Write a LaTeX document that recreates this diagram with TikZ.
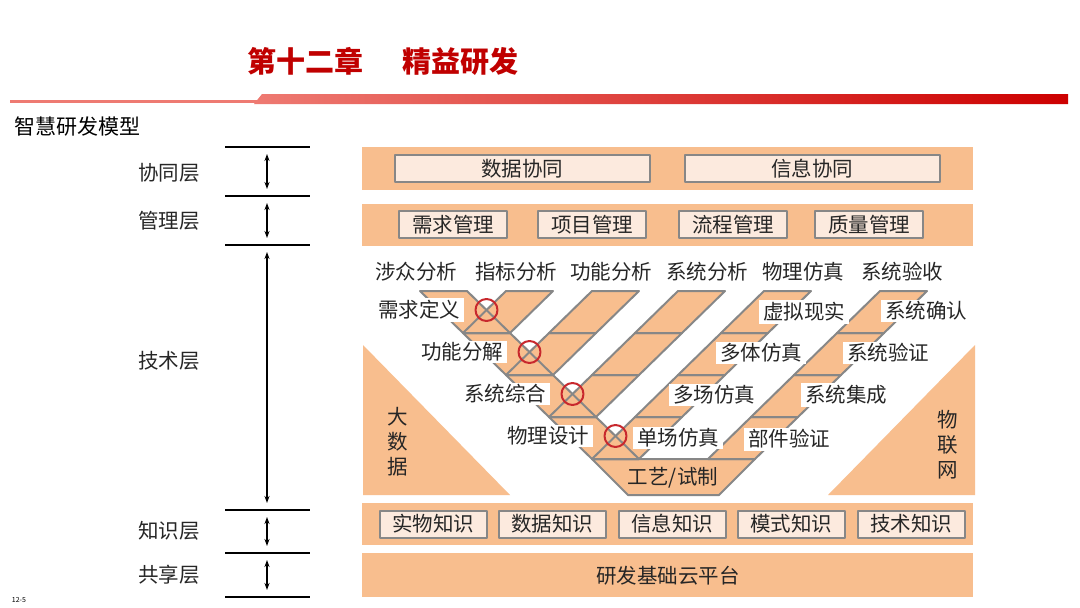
\documentclass[tikz,border=0pt]{standalone}
\usepackage{fontspec}
\setmainfont{Noto Sans CJK SC}
\usetikzlibrary{arrows.meta}
\definecolor{peach}{HTML}{F8BE8E}
\definecolor{boxfill}{HTML}{FCEADE}
\definecolor{edgegray}{HTML}{878787}
\definecolor{titlered}{HTML}{C00000}
\definecolor{barlight}{HTML}{EE7A72}
\definecolor{ringred}{HTML}{C8282D}
\definecolor{inkgray}{HTML}{262626}

\begin{document}
\begin{tikzpicture}[x=1pt,y=-1pt,line join=round,
    lbl/.style={font=\fontsize{20.5}{25}\selectfont,text=inkgray,inner sep=0pt},
    tag/.style={lbl,fill=white,inner xsep=4pt,inner ysep=2pt},
    cellfill/.style={fill=peach},
    celledge/.style={draw=edgegray,line width=2pt},
    layerbox/.style={lbl,draw=edgegray,line width=2pt,fill=boxfill,minimum height=27pt},
    ring/.style={circle,draw=ringred,line width=2pt,minimum size=22pt,inner sep=0pt},
    layerarrow/.style={{Stealth[length=7pt,width=5pt]}-{Stealth[length=7pt,width=5pt]},line width=1.2pt,shorten <=7pt,shorten >=7pt}]
  \useasboundingbox[fill=white] (0,0) rectangle (1080,608);

  % header
  \node[font=\fontsize{29}{32}\selectfont\bfseries,text=titlered] (title) at (383,61) {第十二章\hspace{40pt}精益研发};
  \fill[barlight] (10,99.5) rectangle (258,102.5);
  \shade[left color=barlight,right color=titlered!80!red] (254,104) -- (262,94) -- (1068,94) -- (1068,104) -- cycle;
  \node[font=\fontsize{21}{24}\selectfont,anchor=west,inner sep=0pt] (model) at (14,127) {智慧研发模型};
  \node[font=\fontsize{7}{8}\selectfont,inner sep=0pt] (page) at (19,600) {12-5};

  % layer ruler
  \foreach \i/\y/\w in {0/147/2.4,1/196/1.2,2/245/2.2,3/510/2,4/553/2,5/597/2}{
    \draw[line width=\w pt] (225,\y) -- (310,\y);
    \coordinate (lv\i) at (267,\y);
  }
  \foreach \a/\b in {0/1,1/2,2/3,3/4,4/5} \draw[layerarrow] (lv\a) -- (lv\b);
  \foreach \y/\name/\txt in {173/xt/协同层,221/gl/管理层,361/js/技术层,531/zs/知识层,575/gx/共享层}
    \node[lbl] (\name) at (169,\y) {\txt};

  % layer bands
  \foreach \ya/\yb in {147/190,204/246,503/545,553/597}
    \fill[peach] (362,\ya) rectangle (973,\yb);
  \foreach \x/\txt/\name in {522/数据协同/sjxt,812/信息协同/xxxt}
    \node[layerbox,minimum width=255pt] (\name) at (\x,168.5) {\txt};
  \foreach \x/\txt/\name in {453/需求管理/xqgl,592/项目管理/xmgl,733/流程管理/lcgl,869/质量管理/zlgl}
    \node[layerbox,minimum width=108pt] (\name) at (\x,224.5) {\txt};
  \foreach \x/\txt/\name in {433/实物知识/swzs,552/数据知识/sjzs,672/信息知识/xxzs,791/模式知识/mszs,911/技术知识/jszs}
    \node[layerbox,minimum width=107pt] (\name) at (\x,524) {\txt};
  \node[lbl] (ptf) at (668,576) {研发基础云平台};

  % side triangles
  \fill[peach] (363,345) -- (363,495) -- (510,495) -- cycle;
  \fill[peach] (975,345) -- (975,495) -- (828,495) -- cycle;
  \node[lbl,align=center] (bigdata) at (398,442) {大\\数\\据};
  \node[lbl,align=center] (iot) at (948,445) {物\\联\\网};

  % V model: fill first, edges after
  \foreach \sty in {cellfill,celledge}{
    \foreach \r in {0,...,3}
      \path[\sty] (420+43*\r,291+42*\r) -- ++(47,0) -- ++(43,42) -- ++(-47,0) -- cycle;
    \foreach \a/\n in {506/1,592/2,678/3,764/4,880/4}
      \foreach \r in {1,...,\n}
        \path[\sty] (\a-43*\r+43,249+42*\r) -- ++(47,0) -- ++(-43,42) -- ++(-47,0) -- cycle;
    \path[\sty] (592,459) -- (755,459) -- (719,495) -- (628,495) -- cycle;
  }
  \node[lbl] (craft) at (673,478) {工艺/试制};

  % column heads
  \foreach \x/\txt/\name in {416/涉众分析/szfx,516/指标分析/zbfx,611/功能分析/gnfx,707/系统分析/xtfx,803/物理仿真/wlfz,902/系统验收/xtys}
    \node[lbl] (\name) at (\x,272) {\txt};

  % rings and left tags
  \foreach \n/\txt/\name in {0/需求定义/xqdy,1/功能分解/gnfj,2/系统综合/xtzh,3/物理设计/wlsj}{
    \node[ring] (ring\n) at (486.5+43*\n,310+42*\n) {};
    \node[tag,anchor=east] (\name) at ([xshift=-10pt]ring\n.west) {\txt};
  }

  % right tags
  \foreach \x/\y/\txt/\name in {759/312/虚拟现实/xnxs,716/353/多体仿真/dtfz,669/395/多场仿真/dcfz,633/438/单场仿真/dafz,
      881/311/系统确认/xtqr,843/353/系统验证/xtyz,801/395/系统集成/xtjc,744/439/部件验证/bjyz}
    \node[tag,anchor=west] (\name) at (\x,\y) {\txt};
\end{tikzpicture}
\end{document}
